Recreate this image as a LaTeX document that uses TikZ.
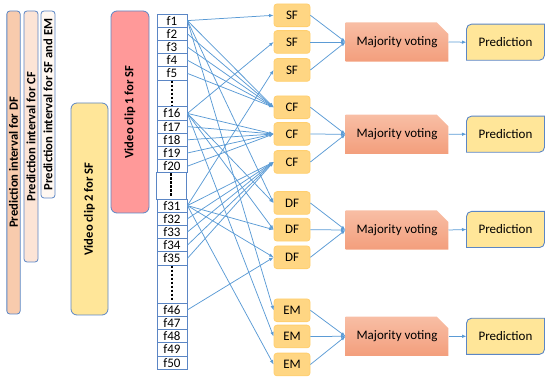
\documentclass[tikz,border=0pt]{standalone}
\usepackage{fontspec}
\setmainfont{Carlito}
\usetikzlibrary{arrows.meta,shapes.misc,backgrounds}
\definecolor{barblue}{HTML}{5B86C5}
\definecolor{arr}{HTML}{5B9BD5}
\definecolor{dfbar}{HTML}{F8CBAD}
\definecolor{cfbar}{HTML}{FCE4D6}
\definecolor{sfbar}{HTML}{FFF8F2}
\definecolor{vcyel}{HTML}{FFE699}
\definecolor{vcred}{HTML}{FF9999}
\definecolor{clsfill}{HTML}{FFD683}
\definecolor{clsdraw}{HTML}{FFCF70}
\definecolor{mvtop}{HTML}{F8BEA5}
\definecolor{mvbot}{HTML}{F39E7C}
\definecolor{predfill}{HTML}{FFE699}
\begin{document}
\begin{tikzpicture}[x=1pt,y=1pt,
  bar/.style={draw=barblue,line width=0.8pt,rounded corners=3pt,rotate=90,inner sep=0pt,font=\bfseries\fontsize{12.6}{12.6}\selectfont},
  fcell/.style={draw=barblue,line width=0.8pt,minimum width=30pt,minimum height=13.2pt,inner sep=0pt,font=\fontsize{13}{13}\selectfont},
  dcell/.style={draw=barblue,line width=0.8pt,minimum width=30pt,inner sep=0pt},
  dots/.style={line width=2.4pt,dash pattern=on 2.4pt off 1.6pt,black},
  cls/.style={draw=clsdraw,fill=clsfill,line width=0.8pt,rounded corners=3pt,minimum width=36pt,minimum height=22.7pt,inner sep=0pt,font=\fontsize{13}{13}\selectfont},
  mv/.style={chamfered rectangle,chamfered rectangle corners=north east,chamfered rectangle xsep=6pt,chamfered rectangle ysep=6pt,top color=mvtop,bottom color=mvbot,draw=none,minimum width=102.6pt,minimum height=39.4pt,inner sep=0pt,font=\fontsize{13}{13}\selectfont},
  pred/.style={minimum width=77.6pt,minimum height=35.7pt,inner sep=0pt,font=\fontsize{13}{13}\selectfont},
  link/.style={draw=arr,line width=0.75pt,-{Latex[length=4.5pt,width=3.5pt]}},
]
\useasboundingbox (0,0) rectangle (550,-382);

% left bars
\node[bar,fill=dfbar,minimum width=303pt,minimum height=13.3pt] (bdf) at (13.5,-162.5) {Prediction interval for DF};
\node[bar,fill=cfbar,minimum width=251pt,minimum height=14pt] (bcf) at (31,-136.5) {Prediction interval for CF};
\node[bar,fill=sfbar,minimum width=187pt,minimum height=14pt] (bsf) at (48,-104.5) {Prediction interval for SF and EM};
\node[bar,fill=vcyel,rounded corners=6pt,minimum width=212pt,minimum height=37pt] (vc2) at (89.5,-209) {Video clip 2 for SF};
\node[bar,fill=vcred,rounded corners=6pt,minimum width=202pt,minimum height=38pt] (vc1) at (130,-112) {Video clip 1 for SF};

% frame column
\node[fcell] (f1)  at (172,-20.6) {f1};
\node[fcell] (f2)  at (172,-33.8) {f2};
\node[fcell] (f3)  at (172,-47.0) {f3};
\node[fcell] (f4)  at (172,-60.2) {f4};
\node[fcell] (f5)  at (172,-73.4) {f5};
\node[dcell,minimum height=26.8pt] (d1) at (172,-93.4) {};
\node[fcell] (f16) at (172,-113.4) {f16};
\node[fcell] (f17) at (172,-126.6) {f17};
\node[fcell] (f18) at (172,-139.8) {f18};
\node[fcell] (f19) at (172,-153.0) {f19};
\node[fcell] (f20) at (172,-166.2) {f20};
\node[dcell,minimum height=26.2pt] (d2) at (171,-185.9) {};
\node[fcell] (f31) at (172,-205.6) {f31};
\node[fcell] (f32) at (172,-218.8) {f32};
\node[fcell] (f33) at (172,-232.0) {f33};
\node[fcell] (f34) at (172,-245.2) {f34};
\node[fcell] (f35) at (172,-258.4) {f35};
\node[dcell,minimum height=38.3pt] (d3) at (172,-284.15) {};
\node[fcell] (f46) at (172,-309.9) {f46};
\node[fcell] (f47) at (172,-323.1) {f47};
\node[fcell] (f48) at (172,-336.3) {f48};
\node[fcell] (f49) at (172,-349.5) {f49};
\node[fcell] (f50) at (172,-362.7) {f50};
\foreach \d in {d1,d2,d3}
  \draw[dots] ([yshift=-1pt]\d.north) -- ([yshift=2.5pt]\d.south);

% classifiers
\node[cls] (sf1) at (292,-15.3) {SF};
\node[cls] (sf2) at (292,-42.0) {SF};
\node[cls] (sf3) at (292,-70.0) {SF};
\node[cls] (cf1) at (292,-107.3) {CF};
\node[cls] (cf2) at (292,-134.0) {CF};
\node[cls] (cf3) at (292,-162.0) {CF};
\node[cls] (df1) at (292,-203.0) {DF};
\node[cls] (df2) at (292,-229.7) {DF};
\node[cls] (df3) at (292,-257.3) {DF};
\node[cls] (em1) at (292,-310.3) {EM};
\node[cls] (em2) at (292,-336.5) {EM};
\node[cls] (em3) at (292,-364.5) {EM};

% majority voting
\node[mv] (mv1) at (397,-42.0) {Majority voting};
\node[mv] (mv2) at (397,-134.3) {Majority voting};
\node[mv] (mv3) at (397,-230.0) {Majority voting};
\node[mv] (mv4) at (397,-336.3) {Majority voting};

% predictions
\node[pred] (p1) at (505.5,-42.2) {Prediction};
\node[pred] (p2) at (505.5,-134.2) {Prediction};
\node[pred] (p3) at (505.5,-229.5) {Prediction};
\node[pred] (p4) at (505.5,-336.3) {Prediction};
\begin{scope}[on background layer]
\foreach \p in {p1,p2,p3,p4}
  \draw[draw=barblue,fill=predfill,line width=0.9pt]
    (\p.south west) -- ([yshift=-5pt]\p.north west) arc[start angle=180,end angle=90,radius=5pt]
    -- (\p.north east) -- ([yshift=5pt]\p.south east) arc[start angle=0,end angle=-90,radius=5pt] -- cycle;
\end{scope}

% frame -> classifier links
\foreach \s/\t in {f1/sf1,f16/sf2,f31/sf3,
  f1/cf1,f2/cf1,f3/cf1,f4/cf1,f5/cf1,
  f16/cf2,f17/cf2,f18/cf2,f19/cf2,f20/cf2,
  f31/cf3,f32/cf3,f33/cf3,f34/cf3,f35/cf3,
  f1/df1,f16/df1,f16/df2,f31/df2,f31/df3,f46/df3,
  f1/em1,f16/em2,f31/em3}
  \draw[link] (\s.east) -- (\t.west);

% classifier -> majority voting
\foreach \c/\m in {sf1/mv1,sf2/mv1,sf3/mv1,cf1/mv2,cf2/mv2,cf3/mv2,df1/mv3,df2/mv3,df3/mv3,em1/mv4,em2/mv4,em3/mv4}
  \draw[link] (\c.east) -- (\m.west);

% majority voting -> prediction
\foreach \m/\p in {mv1/p1,mv2/p2,mv3/p3,mv4/p4}
  \draw[link] (\m.east) -- (\p.west);
\end{tikzpicture}
\end{document}
